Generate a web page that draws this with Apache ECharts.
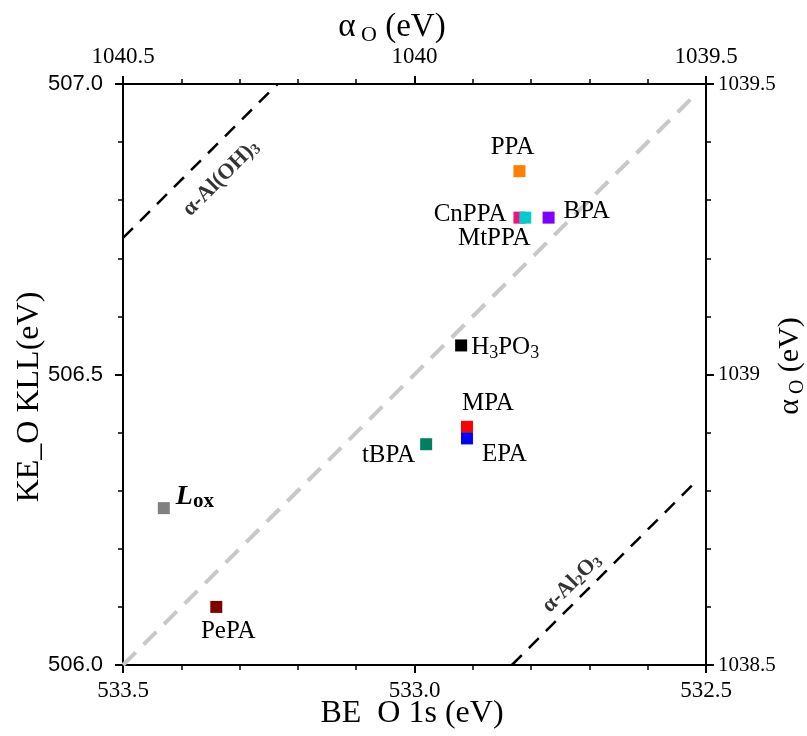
<!DOCTYPE html>
<html>
<head>
<meta charset="utf-8">
<script src="https://cdn.jsdelivr.net/npm/echarts@6/dist/echarts.min.js"></script>
<style>
html,body{margin:0;padding:0;background:#fff;}
#chart{width:807px;height:736px;}
</style>
</head>
<body>
<div id="chart"></div>
<script>
// ---- data ----
const categories = ['PPA', 'CnPPA', 'MtPPA', 'BPA', 'H3PO3', 'MPA', 'EPA', 'tBPA', 'Lox', 'PePA'];
const beO1s  = [532.82, 532.82, 532.81, 532.77, 532.92, 532.91, 532.91, 532.98, 533.43, 533.34];
const keOKLL = [506.85, 506.77, 506.77, 506.77, 506.55, 506.41, 506.39, 506.38, 506.27, 506.10];
// reference lines of constant Auger parameter (endpoints: [BE, KE])
const lineAlOH3 = [[533.5, 506.735], [533.235, 507.0]];
const lineRef   = [[533.5, 506.0], [532.515, 506.985]];
const lineAl2O3 = [[532.833, 506.0], [532.517, 506.316]];
const bottomTicks = [533.5, 533.0, 532.5];
const leftTicks = [506.0, 506.5, 507.0];
const topTicks = [1040.5, 1040, 1039.5];
const rightTicks = [1038.5, 1039, 1039.5];

// ---- styles ----
const colors = {
  PPA: '#ff8000', CnPPA: '#f0147a', MtPPA: '#00cccc', BPA: '#8000ff', H3PO3: '#000000',
  MPA: '#ff0000', EPA: '#0000ff', tBPA: '#008060', Lox: '#808080', PePA: '#800000'
};
const SERIF = '"Liberation Serif", serif';
const SANS = '"Liberation Sans", sans-serif';
const LBL = 25;
const baseRich = {
  n: { fontFamily: SERIF, fontSize: LBL, color: '#000', lineHeight: 30 },
  s: { fontFamily: SERIF, fontSize: 18, color: '#000', lineHeight: 17, verticalAlign: 'bottom' },
  L: { fontFamily: SERIF, fontSize: 28, fontStyle: 'italic', fontWeight: 'bold', color: '#000', lineHeight: 30 },
  o: { fontFamily: SERIF, fontSize: 21, fontWeight: 'bold', color: '#000', lineHeight: 21, verticalAlign: 'bottom' }
};
const labelText = {
  PPA: '{n|PPA}', CnPPA: '{n|CnPPA}', MtPPA: '{n|MtPPA}', BPA: '{n|BPA}',
  H3PO3: '{n|H}{s|3}{n|PO}{s|3}', MPA: '{n|MPA}', EPA: '{n|EPA}', tBPA: '{n|tBPA}',
  Lox: '{L|L}{o|ox}', PePA: '{n|PePA}'
};
const labelPlace = {
  PPA:   { position: 'top', distance: 3, offset: [-7, 0] },
  CnPPA: { position: 'left', distance: 7, offset: [0, -3] },
  MtPPA: { position: 'bottom', distance: 0, offset: [-31, 0] },
  BPA:   { position: 'right', distance: 9, offset: [0, -6] },
  H3PO3: { position: 'right', distance: 4, offset: [0, 2] },
  MPA:   { position: 'top', distance: 2, offset: [21, 0] },
  EPA:   { position: 'right', distance: 9, offset: [0, 16] },
  tBPA:  { position: 'left', distance: 5, offset: [0, 11] },
  Lox:   { position: 'right', distance: 6, offset: [0, -11] },
  PePA:  { position: 'bottom', distance: 4, offset: [12, 0] }
};

const pointSeries = categories.map((c, i) => ({
  type: 'scatter',
  name: c,
  xAxisIndex: 0, yAxisIndex: 0,
  symbol: 'rect',
  symbolSize: 12,
  z: 5,
  itemStyle: { color: colors[c], opacity: 1 },
  label: Object.assign({
    show: true,
    formatter: labelText[c],
    rich: baseRich
  }, labelPlace[c]),
  data: [[beO1s[i], keOKLL[i]]]
}));

function lineSeries(data, color, width, dash) {
  return {
    type: 'line', xAxisIndex: 0, yAxisIndex: 0, symbol: 'none', silent: true, z: 2,
    lineStyle: { color: color, width: width, type: dash },
    data: data
  };
}

const annotations = [
  { text: '{b|α-Al(OH)}{bs|3}', coord: [533.332, 506.838] },
  { text: '{b|α-Al}{bs|2}{b|O}{bs|3}', coord: [532.730, 506.141] }
];
const annRich = {
  b: { fontFamily: SERIF, fontSize: 22, fontWeight: 'bold', color: '#000', lineHeight: 24 },
  bs: { fontFamily: SERIF, fontSize: 15, fontWeight: 'bold', color: '#000', lineHeight: 14, verticalAlign: 'bottom' }
};
const annSeries = annotations.map(a => ({
  type: 'scatter', xAxisIndex: 0, yAxisIndex: 0, symbolSize: 0, silent: true, z: 6,
  label: { show: true, position: 'inside', rotate: 45, formatter: a.text, rich: annRich },
  data: [a.coord]
}));

function axisCommon(labelFont, size, margin) {
  return {
    type: 'value',
    interval: 0.5,
    axisLine: { show: true, onZero: false, lineStyle: { color: '#000', width: 2 } },
    axisTick: { show: true, length: 8, lineStyle: { color: '#000', width: 2 } },
    minorTick: { show: true, splitNumber: 5, length: 5, lineStyle: { color: '#000', width: 1.5 } },
    splitLine: { show: false },
    axisLabel: { fontFamily: labelFont, fontSize: size, color: '#000', margin: margin, showMinLabel: true, showMaxLabel: true }
  };
}

const chart = echarts.init(document.getElementById('chart'), null, { renderer: 'canvas' });
chart.setOption({
  backgroundColor: '#fff',
  animation: false,
  grid: { left: 123, right: 101, top: 84, bottom: 71, containLabel: false },
  xAxis: [
    Object.assign(axisCommon(SERIF, 23, 14), {
      position: 'bottom', min: bottomTicks[2], max: bottomTicks[0], inverse: true,
      axisLabel: Object.assign(axisCommon(SERIF, 23, 14).axisLabel, { formatter: v => v.toFixed(1) })
    }),
    Object.assign(axisCommon(SERIF, 23, 16), {
      position: 'top', min: topTicks[2], max: topTicks[0], inverse: true,
      axisLabel: Object.assign(axisCommon(SERIF, 23, 16).axisLabel, { formatter: v => String(v) })
    })
  ],
  yAxis: [
    Object.assign(axisCommon(SANS, 22, 20), {
      position: 'left', min: leftTicks[0], max: leftTicks[2],
      axisLabel: Object.assign(axisCommon(SANS, 22, 20).axisLabel, { formatter: v => v.toFixed(1) })
    }),
    Object.assign(axisCommon(SERIF, 21, 12), {
      position: 'right', min: rightTicks[0], max: rightTicks[2],
      axisLabel: Object.assign(axisCommon(SERIF, 21, 12).axisLabel, { formatter: v => String(v) })
    })
  ],
  series: [
    lineSeries(lineRef, '#c8c8c8', 4, [18, 11]),
    lineSeries(lineAlOH3, '#000', 2.5, [14, 10]),
    lineSeries(lineAl2O3, '#000', 2.5, [14, 10])
  ].concat(pointSeries, annSeries),
  graphic: [
    { type: 'text', x: 392, y: 27, z: 10,
      style: { text: '{a|α}{s| O}{a| (eV)}', align: 'center', verticalAlign: 'middle', rich: {
        a: { fontFamily: SERIF, fontSize: 33, color: '#000', lineHeight: 38 },
        s: { fontFamily: SERIF, fontSize: 22, color: '#000', lineHeight: 22, verticalAlign: 'bottom' } } } },
    { type: 'text', x: 412, y: 714, z: 10,
      style: { text: 'BE  O 1s (eV)', fontFamily: SERIF, fontSize: 32, fill: '#000', align: 'center', verticalAlign: 'middle' } },
    { type: 'text', x: 30, y: 397, rotation: Math.PI / 2, z: 10,
      style: { text: 'KE_O KLL(eV)', fontFamily: SERIF, fontSize: 32, fill: '#000', align: 'center', verticalAlign: 'middle' } },
    { type: 'text', x: 790, y: 366, rotation: Math.PI / 2, z: 10,
      style: { text: '{a|α}{s| O}{a| (eV)}', align: 'center', verticalAlign: 'middle', rich: {
        a: { fontFamily: SERIF, fontSize: 30, color: '#000', lineHeight: 36 },
        s: { fontFamily: SERIF, fontSize: 20, color: '#000', lineHeight: 20, verticalAlign: 'bottom' } } } }
  ]
});
</script>
</body>
</html>
